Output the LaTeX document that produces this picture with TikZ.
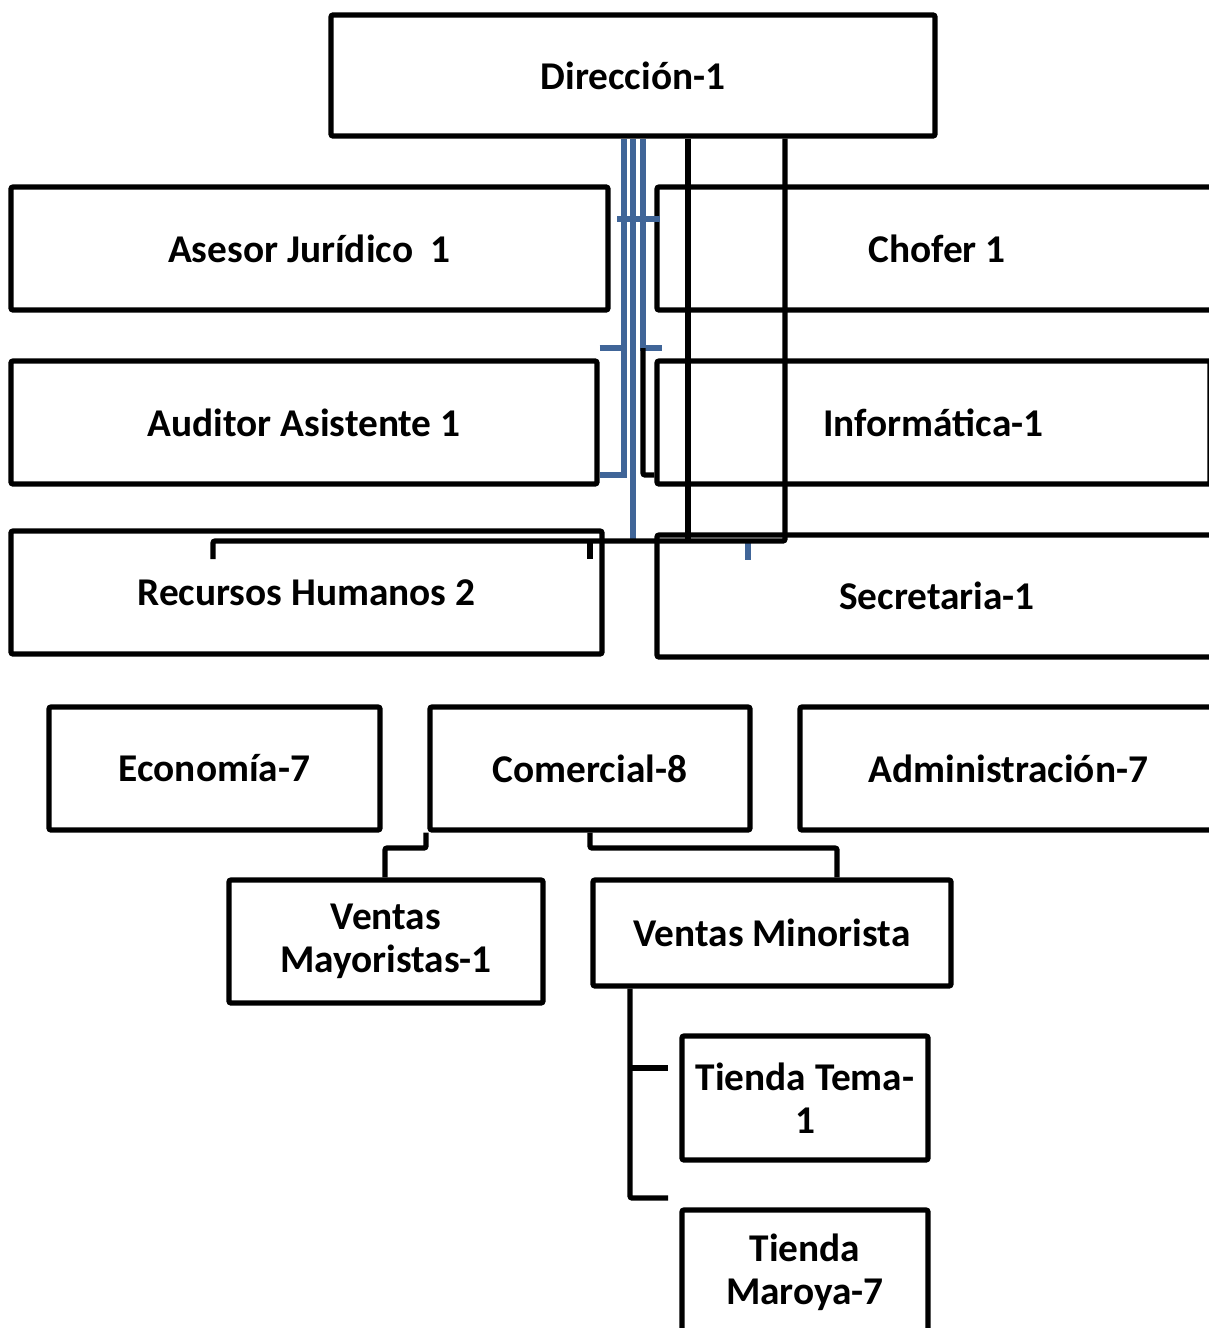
\documentclass[tikz,border=0pt]{standalone}
\usepackage{fontspec}
\setmainfont{Carlito}
\definecolor{linkblue}{RGB}{64,101,152}
\begin{document}
\begin{tikzpicture}[x=0.75pt,y=-0.75pt,
  box/.style={draw,line width=3.9pt,rounded corners=1.5pt,inner sep=0pt,align=center,
    font=\fontsize{29.5}{32}\selectfont\bfseries, minimum height=92.25pt},
  blink/.style={draw=linkblue,line width=3.9pt},
  klink/.style={draw=black,line width=3.9pt,rounded corners=1.5pt}]
\useasboundingbox (0,0) rectangle (1209,1328);
% boxes
\node[box,minimum width=453pt,minimum height=90.75pt] (dir) at (633,75.5) {Dirección-1};
\node[box,minimum width=447.75pt] (ase) at (309.5,248.5) {Asesor Jurídico\ \ 1};
\node[box,minimum width=420pt] (cho) at (937,248.5) {Chofer 1};
\node[box,minimum width=439.5pt] (aud) at (304,422.5) {Auditor Asistente 1};
\node[box,minimum width=414.75pt] (inf) at (933.5,422.5) {Informática-1};
\node[box,minimum width=443.25pt] (rrhh) at (306.5,592.5) {Recursos Humanos 2};
\node[box,minimum width=420pt,minimum height=91.5pt] (sec) at (937,596) {Secretaria-1};
\node[box,minimum width=248.25pt] (eco) at (214.5,768.5) {Economía-7};
\node[box,minimum width=240pt] (com) at (590,768.5) {Comercial-8};
\node[box,minimum width=312.75pt] (adm) at (1008.5,768.5) {Administración-7};
\node[box,minimum width=235.5pt] (vmay) at (386,941.5) {Ventas\\Mayoristas-1};
\node[box,minimum width=268.5pt,minimum height=79.5pt] (vmin) at (772,933) {Ventas Minorista};
\node[box,minimum width=184.5pt,minimum height=93pt] (tema) at (805,1098) {Tienda Tema-\\1};
\node[box,minimum width=184.5pt,minimum height=93pt] (maro) at (805,1272) {Tienda\\Maroya-7};
% named free ends
\coordinate (jA) at (213,541);
\coordinate (jB) at (785,541);
% blue connectors
\draw[blink] (624,0 |- dir.south) -- (624,475) -- (aud.east |- 0,475);
\draw[blink] (aud.east |- 0,348) -- (624,348);
\draw[blink] (633,0 |- dir.south) -- (633,540);
\draw[blink] (643,0 |- dir.south) -- (643,348) -- (662,348);
\draw[blink] (617,219) -- (660,219);
\draw[blink] (748,543) -- (748,560);
% black connectors
\draw[klink] (643,348) -- (643,475) -- (inf.west |- 0,475);
\draw[klink] (688,0 |- dir.south) -- (688,541);
\draw[klink] (785,0 |- dir.south) -- (jB) -- (jA) -- (213,559);
\draw[klink] (590,541) -- (590,559);
\draw[klink] (426,0 |- com.south) -- (426,848) -- (385,848) -- (385,0 |- vmay.north);
\draw[klink] (com.south) -- (590,848) -- (837,848) -- (837,0 |- vmin.north);
\draw[klink] (630,0 |- vmin.south) -- (630,1198) -- (668,1198);
\draw[klink] (630,1068) -- (668,1068);
\end{tikzpicture}
\end{document}
